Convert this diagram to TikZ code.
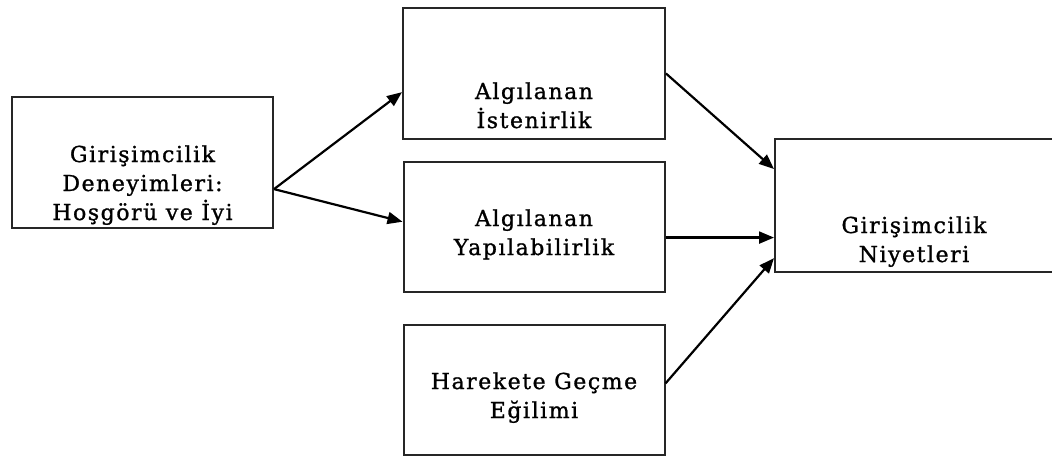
\documentclass[tikz,border=0pt]{standalone}
\usepackage{fontspec}
\setmainfont{DejaVu Serif}[LetterSpace=7,FakeBold=1.1]
\usepackage{tikz}
\usetikzlibrary{arrows.meta,positioning,calc}

\begin{document}
\begin{tikzpicture}[
          x=0.5pt, y=-0.5pt,
          every node/.style={font=\fontsize{11pt}{14.5pt}\selectfont},
          factorbox/.style={draw=black!85,line width=1pt,fill=white,inner sep=0pt},
          lbl/.style={align=center,inner sep=0pt,anchor=base},
          arr/.style={-{Triangle[length=7.5pt,width=6pt]}, line width=1.1pt}
      ]
        \useasboundingbox (0,0) rectangle (1052,457);

        % kutular
        \node[factorbox,minimum width=130.5pt,minimum height=65.5pt] (exp) at (142.5,162.5) {};
        \node[factorbox,minimum width=131pt,minimum height=65.5pt] (des) at (534,73.5) {};
        \node[factorbox,minimum width=130.5pt,minimum height=65pt] (feas) at (534,227) {};
        \node[factorbox,minimum width=130.5pt,minimum height=65pt] (prop) at (534,390) {};
        \node[factorbox,minimum width=139pt,minimum height=66.5pt] (int) at (914,205.5) {};

        % metinler (base = son satır)
        \node[lbl] (exp-t) at (142.5,220) {Girişimcilik\\Deneyimleri:\\Hoşgörü ve İyi};
        \node[lbl] (des-t) at (534,128) {Algılanan\\İstenirlik};
        \node[lbl] (feas-t) at (534,255) {Algılanan\\Yapılabilirlik};
        \node[lbl] (prop-t) at (534,418) {Harekete Geçme\\Eğilimi};
        \node[lbl] (int-t) at (914,262) {Girişimcilik\\Niyetleri};

        % oklar
        \coordinate (e1) at ($(exp.south east)!.3!(exp.north east)$);
        \draw[arr] (e1) -- ($(des.south west)!.36!(des.north west)$);
        \draw[arr] (e1) -- ($(feas.south west)!.54!(feas.north west)$);
        \draw[arr] (des.east) -- ($(int.south west)!.77!(int.north west)$);
        \draw[arr] ($(feas.south east)!.42!(feas.north east)$) coordinate (f1) -- (f1 -| int.west);
        \draw[arr] ($(prop.south east)!.55!(prop.north east)$) -- ($(int.south west)!.11!(int.north west)$);
      \end{tikzpicture}
\end{document}
